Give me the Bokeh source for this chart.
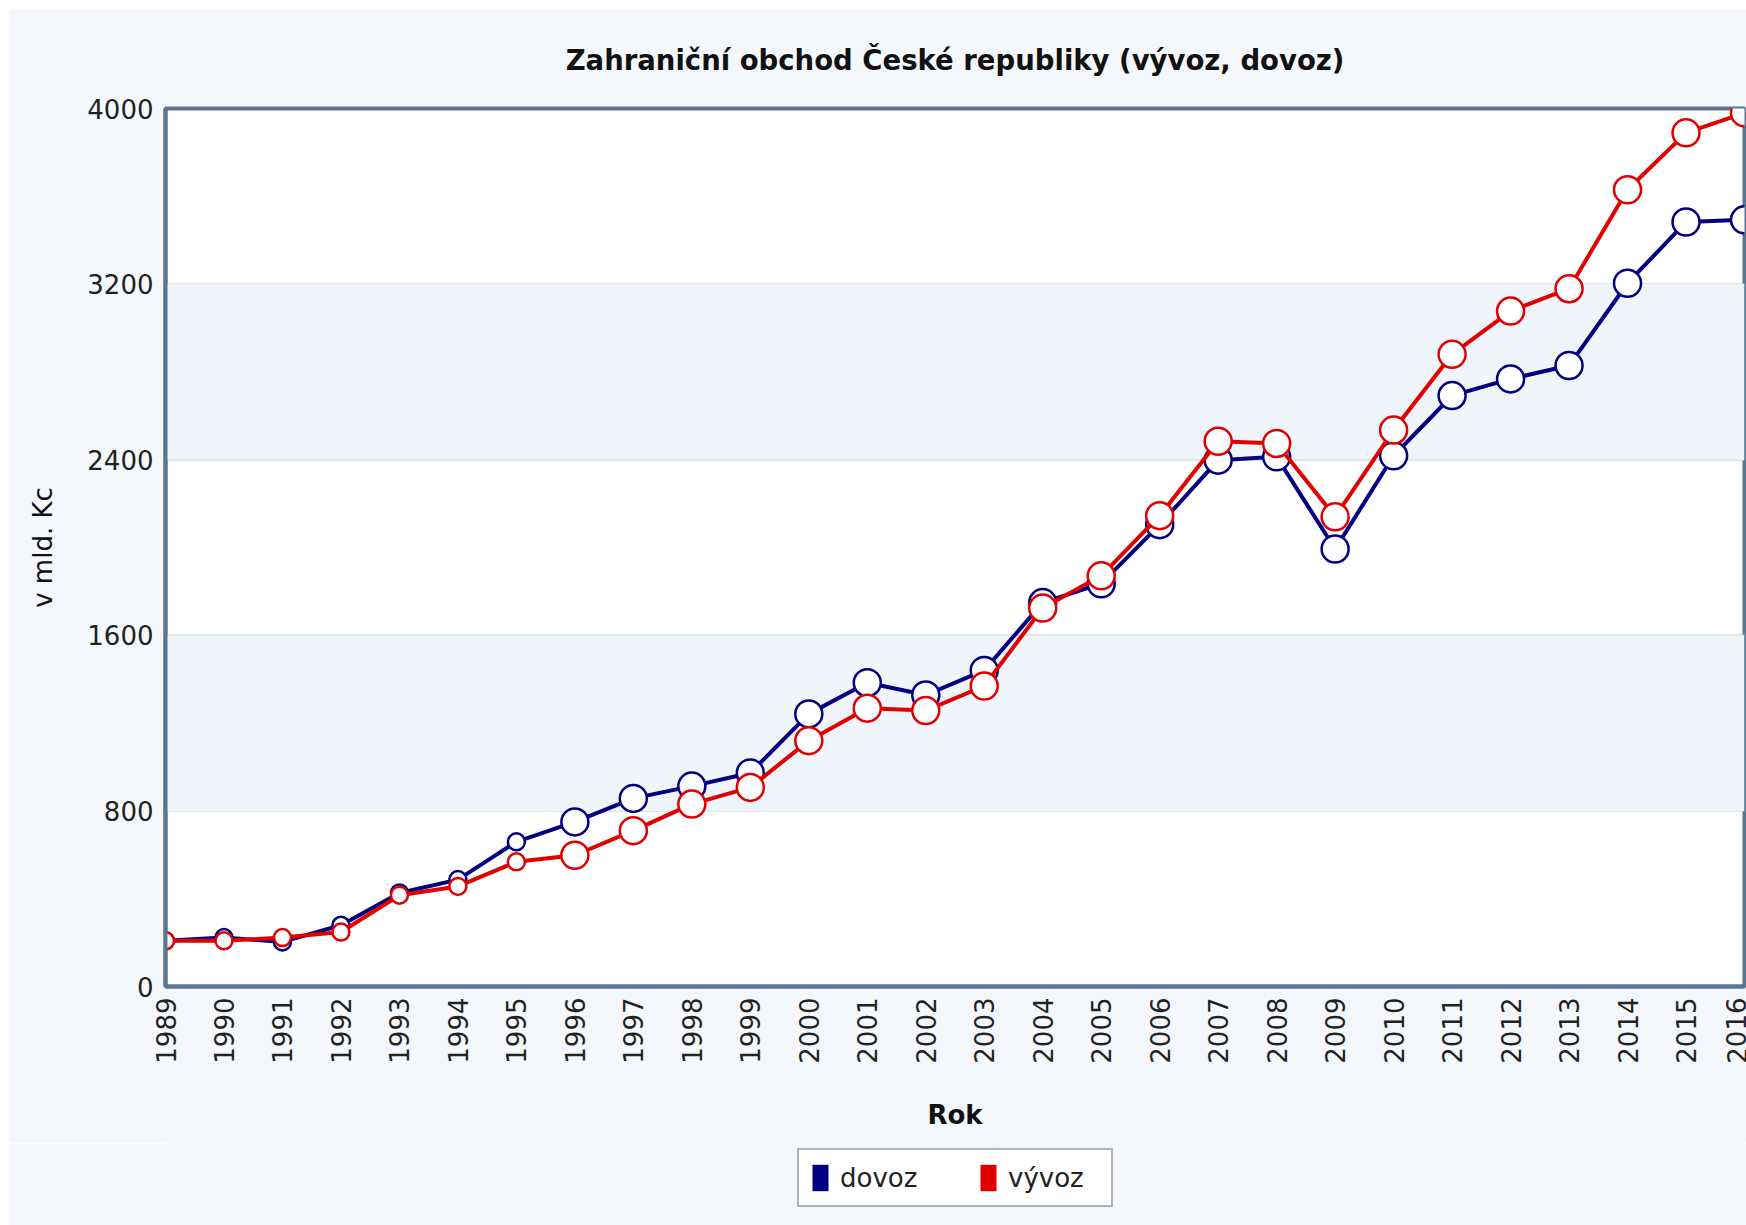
from bokeh.plotting import figure
from bokeh.layouts import column
from bokeh.models import Range1d, FixedTicker, Legend, LegendItem, BoxAnnotation, ColumnDataSource
from bokeh.embed import file_html
from bokeh.resources import INLINE

years = list(range(1989, 2017))
dovoz = [208, 223, 203, 279, 426, 487, 659, 750, 857, 913, 973, 1242, 1384, 1328, 1440,
         1749, 1835, 2104, 2398, 2413, 1993, 2418, 2692, 2768, 2829, 3204, 3483, 3493]
vyvoz = [208, 208, 223, 248, 416, 456, 568, 598, 710, 831, 907, 1120, 1268, 1257, 1369,
         1724, 1871, 2145, 2484, 2474, 2140, 2535, 2880, 3077, 3179, 3630, 3889, 3980]
y_ticks = [0, 800, 1600, 2400, 3200, 4000]
title_text = "Zahraniční obchod České republiky (vývoz, dovoz)"
series_names = ["dovoz", "vývoz"]

# styles
BLUE = "#000080"
RED = "#e00000"
FONT = "DejaVu Sans"
BG = "#f4f8fc"
marker_sizes = [17 if y < 1996 else 27 for y in years]

p = figure(frame_width=1579, frame_height=878, output_backend="svg", toolbar_location=None,
           x_range=Range1d(1989, 2016), y_range=Range1d(0, 4000),
           min_border_left=157, min_border_right=2, min_border_top=100,
           min_border_bottom=157)
p.margin = (8, 0, 0, 8)

p.background_fill_color = "#ffffff"
p.border_fill_color = BG
p.outline_line_color = "#5b7490"
p.outline_line_width = 4

# alternating bands
for i in range(1, len(y_ticks) - 1, 2):
    p.add_layout(BoxAnnotation(bottom=y_ticks[i], top=y_ticks[i + 1],
                               fill_color="#eff5fb", fill_alpha=1, line_alpha=0, level="underlay"))

p.title.text = title_text
p.title.align = "center"
p.title.text_font = FONT
p.title.text_font_size = "27.5px"
p.title.text_font_style = "bold"
p.title.text_color = "#111111"
p.title.standoff = 65

p.xaxis.ticker = FixedTicker(ticks=years)
p.yaxis.ticker = FixedTicker(ticks=y_ticks)
for ax in (p.xaxis, p.yaxis):
    ax.major_tick_line_color = None
    ax.minor_tick_line_color = None
    ax.axis_line_color = "#5b7490"
    ax.axis_line_width = 4
    ax.major_label_text_font = FONT
    ax.major_label_text_font_size = "26px"
    ax.major_label_text_color = "#222222"
    ax.axis_label_text_font = FONT
    ax.axis_label_text_font_size = "26px"
    ax.axis_label_text_color = "#111111"
p.xaxis.major_label_orientation = 1.5708
p.xaxis.major_label_standoff = 5
p.xaxis.axis_label = "Rok"
p.xaxis.axis_label_text_font_style = "bold"
p.xaxis.axis_label_standoff = 33
p.yaxis.axis_label = "v mld. Kc"
p.yaxis.axis_label_text_font_style = "normal"
p.yaxis.major_label_standoff = 6
p.yaxis.axis_label_standoff = 26

p.xgrid.grid_line_color = None
p.ygrid.ticker = FixedTicker(ticks=y_ticks)
p.ygrid.grid_line_color = "#c4ccd6"
p.ygrid.grid_line_width = 2

src_d = ColumnDataSource(dict(x=years, y=dovoz, s=marker_sizes))
src_v = ColumnDataSource(dict(x=years, y=vyvoz, s=marker_sizes))

p.line("x", "y", source=src_d, line_color=BLUE, line_width=4)
p.scatter("x", "y", source=src_d, size="s", fill_color="white", line_color=BLUE, line_width=2.5)
p.line("x", "y", source=src_v, line_color=RED, line_width=4)
p.scatter("x", "y", source=src_v, size="s", fill_color="white", line_color=RED, line_width=2.5)

# legend strip below the chart
pl = figure(width=1738, height=82, output_backend="svg", toolbar_location=None,
            x_range=Range1d(1989, 2016), y_range=Range1d(0, 4000),
            x_axis_type=None, y_axis_type=None,
            min_border_left=0, min_border_right=0, min_border_top=0, min_border_bottom=0)
pl.margin = (0, 0, 0, 8)
pl.background_fill_color = BG
pl.border_fill_color = BG
pl.outline_line_color = None
pl.xgrid.grid_line_color = None
pl.ygrid.grid_line_color = None

rd = pl.rect(x=years[:1], y=dovoz[:1], width=0, height=0, fill_color=BLUE, line_color=None)
rv = pl.rect(x=years[:1], y=vyvoz[:1], width=0, height=0, fill_color=RED, line_color=None)
legend = Legend(items=[LegendItem(label=series_names[0], renderers=[rd]),
                       LegendItem(label=series_names[1], renderers=[rv])],
                orientation="horizontal", location=(632, 18))
legend.glyph_width = 20
legend.glyph_height = 33
legend.label_standoff = 10
legend.label_width = 92
legend.spacing = 46
legend.padding = 11
legend.margin = 0
legend.label_text_font = FONT
legend.label_text_font_size = "26px"
legend.label_text_color = "#222222"
legend.border_line_color = "#666666"
legend.border_line_width = 2
legend.background_fill_color = "white"
legend.background_fill_alpha = 1
pl.add_layout(legend, "center")

page = column(p, pl, spacing=0)
open("out.html", "w").write(file_html(page, INLINE))
